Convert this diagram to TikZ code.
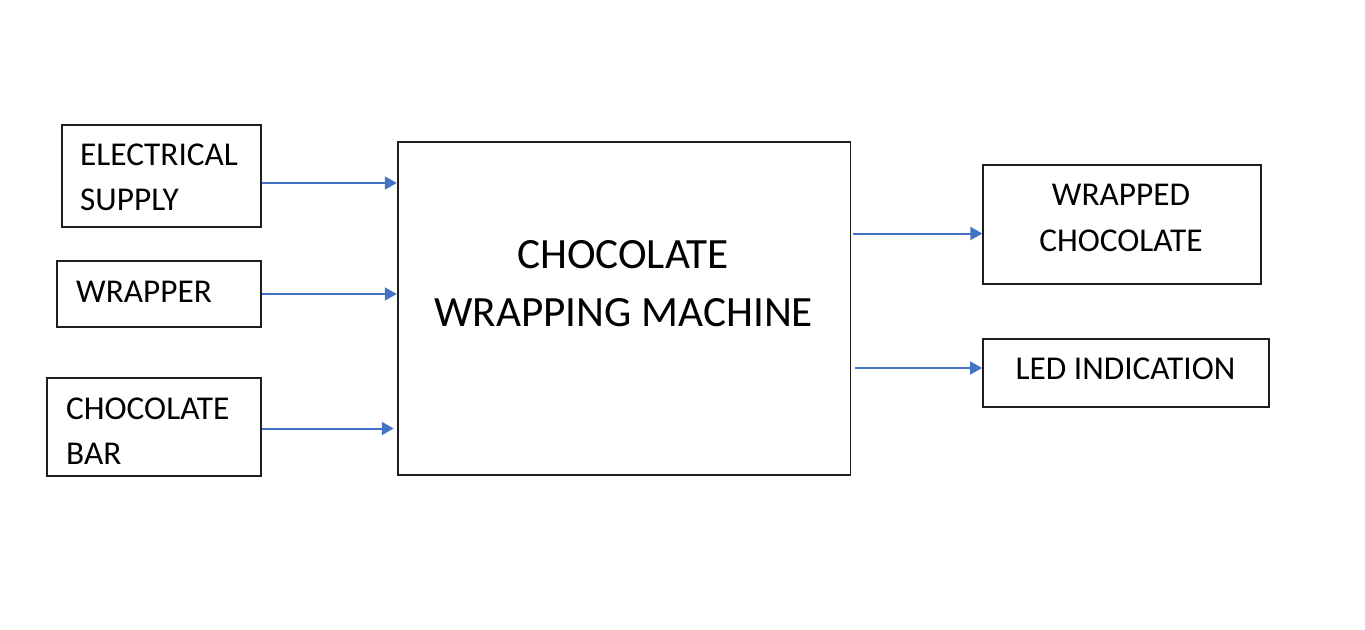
\documentclass[tikz,border=0pt]{standalone}
\usepackage{fontspec}
\setmainfont{Carlito}
\usetikzlibrary{arrows.meta}
\definecolor{arrblue}{HTML}{4472C4}
\definecolor{boxline}{HTML}{1E1E1E}
\tikzset{
  box/.style={draw=boxline, line width=1.9pt, rectangle, inner sep=0pt},
  lbl/.style={inner sep=0pt, font=\fontsize{33.3}{40}\selectfont, text=black},
  big/.style={inner sep=0pt, font=\fontsize{43.2}{50}\selectfont, text=black},
  arr/.style={draw=arrblue, line width=2pt, -{Triangle[length=12pt,width=13pt]}}
}
\begin{document}
\begin{tikzpicture}[x=1pt,y=-1pt]
\useasboundingbox (0,0) rectangle (1365,629);
% boxes
\node[box, minimum width=199pt, minimum height=102.3pt] (es) at (161.2,176.2) {};
\node[box, minimum width=204pt, minimum height=66pt] (wr) at (159,294) {};
\node[box, minimum width=213.4pt, minimum height=97.7pt] (cb) at (154,427.2) {};
\node[box, minimum width=452.8pt, minimum height=333.3pt] (main) at (624.1,308.3) {};
\node[box, minimum width=277.4pt, minimum height=119.3pt] (wc) at (1122,224.7) {};
\node[box, minimum width=286pt, minimum height=68.3pt] (led) at (1126,373.2) {};
% texts
\node[lbl, anchor=base west] (t1) at (80,165) {ELECTRICAL};
\node[lbl, anchor=base west] (t2) at (80,210) {SUPPLY};
\node[lbl, anchor=base west] (t3) at (76,302) {WRAPPER};
\node[lbl, anchor=base west] (t4) at (66,419) {CHOCOLATE};
\node[lbl, anchor=base west] (t5) at (66,464) {BAR};
\node[big, anchor=base] (t6) at (623,268) {CHOCOLATE};
\node[big, anchor=base] (t7) at (623.5,326) {WRAPPING MACHINE};
\node[lbl, anchor=base] (t8) at (1121,205) {WRAPPED};
\node[lbl, anchor=base] (t9) at (1121,251) {CHOCOLATE};
\node[lbl, anchor=base] (t10) at (1125.5,379) {LED INDICATION};
% arrows
\draw[arr] (es.east |- 0,183) -- (main.west |- 0,183);
\draw[arr] (wr.east |- 0,294) -- (main.west |- 0,294);
\draw[arr] (cb.east |- 0,428.5) -- ([xshift=-3pt]main.west |- 0,428.5);
\draw[arr] ([xshift=2pt]main.east |- 0,233.5) -- (wc.west |- 0,233.5);
\draw[arr] ([xshift=4pt]main.east |- 0,368) -- (led.west |- 0,368);
\end{tikzpicture}
\end{document}
